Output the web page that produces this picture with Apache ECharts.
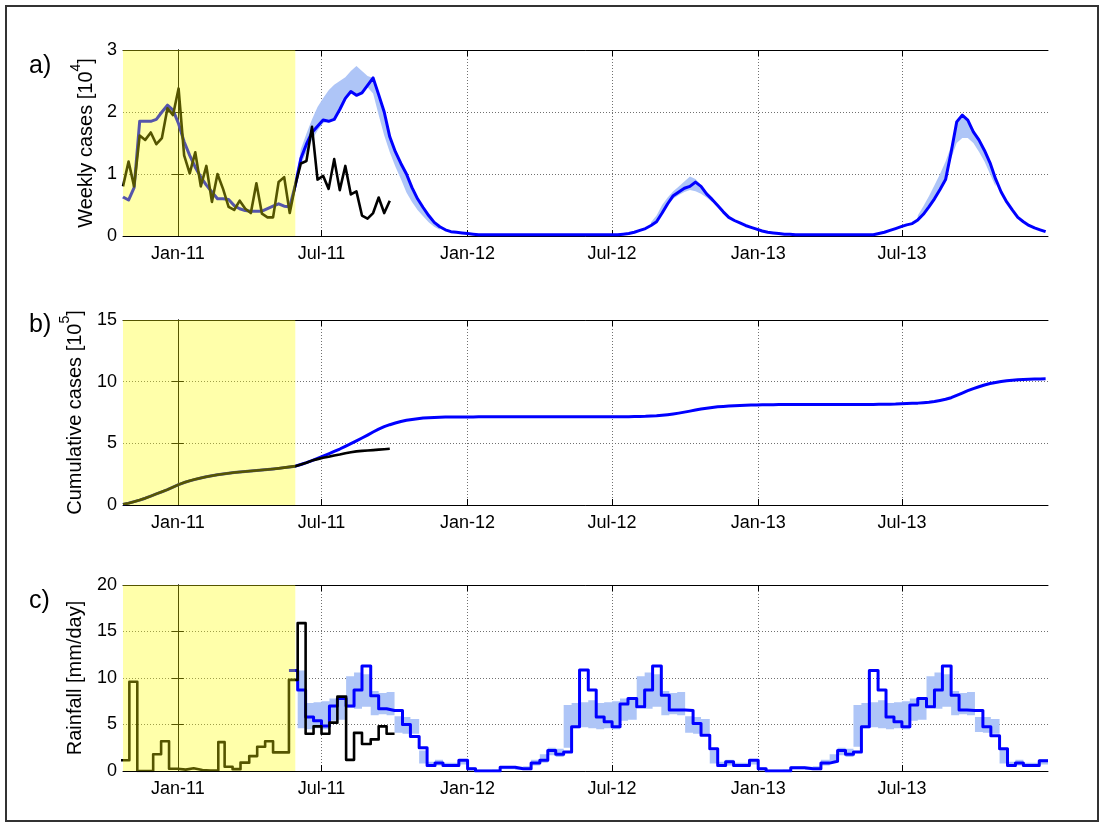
<!DOCTYPE html>
<html>
<head>
<meta charset="utf-8">
<script src="https://cdn.jsdelivr.net/npm/echarts@6/dist/echarts.min.js"></script>
<style>
  html, body { margin: 0; padding: 0; background: #fff; }
  #chart { width: 1101px; height: 823px; }
</style>
</head>
<body>
<div id="chart"></div>
<script>
// ---------- time handling: x values are days since 1 Jan 2011 ----------
const DAY0 = Date.UTC(2011, 0, 1);
function dayOf(ymd) { return (Date.UTC(ymd[0], ymd[1] - 1, ymd[2]) - DAY0) / 86400000; }

// ---------- axis ticks ----------
const axisStart = [2010, 10, 24];
const axisEnd = [2014, 1, 1];
const tickDates = [[2011, 1, 1], [2011, 7, 1], [2012, 1, 1], [2012, 7, 1], [2013, 1, 1], [2013, 7, 1]];
const tickLabels = ['Jan-11', 'Jul-11', 'Jan-12', 'Jul-12', 'Jan-13', 'Jul-13'];
const fitWindowEnd = [2011, 5, 29];   // end of the shaded fitting period

// ---------- a) weekly cases [10^4], one value per week from weekStart ----------
const weekStart = [2010, 10, 24];
const weeklyObserved = [
  0.80, 1.20, 0.80, 1.62, 1.55, 1.67, 1.48, 1.58, 2.06, 1.95,
  2.38, 1.30, 1.01, 1.35, 0.80, 1.13, 0.55, 1.00, 0.76, 0.47,
  0.42, 0.57, 0.44, 0.37, 0.85, 0.36, 0.30, 0.30, 0.87, 0.95,
  0.37, 0.82, 1.17, 1.21, 1.76, 0.91, 0.97, 0.76, 1.24, 0.74,
  1.13, 0.67, 0.72, 0.33, 0.28, 0.37, 0.62, 0.37, 0.57
];
const weeklyModel = [
  0.63, 0.58, 0.78, 1.85, 1.85, 1.85, 1.88, 2.00, 2.11, 2.03,
  1.81, 1.52, 1.30, 1.11, 0.95, 0.82, 0.71, 0.60, 0.60, 0.59,
  0.49, 0.44, 0.41, 0.40, 0.40, 0.40, 0.44, 0.48, 0.52, 0.48,
  0.47, 0.82, 1.25, 1.48, 1.67, 1.77, 1.87, 1.85, 1.88, 2.04,
  2.22, 2.33, 2.27, 2.31, 2.43, 2.55, 2.28, 2.00, 1.60, 1.36,
  1.17, 1.00, 0.78, 0.60, 0.46, 0.33, 0.22, 0.15, 0.10, 0.07,
  0.06, 0.05, 0.04, 0.03, 0.02, 0.02, 0.02, 0.02, 0.02, 0.02,
  0.02, 0.02, 0.02, 0.02, 0.02, 0.02, 0.02, 0.02, 0.02, 0.02,
  0.02, 0.02, 0.02, 0.02, 0.02, 0.02, 0.02, 0.02, 0.02, 0.02,
  0.03, 0.04, 0.06, 0.09, 0.12, 0.17, 0.23, 0.37, 0.52, 0.65,
  0.71, 0.77, 0.80, 0.87, 0.80, 0.68, 0.59, 0.49, 0.39, 0.30,
  0.25, 0.21, 0.17, 0.14, 0.11, 0.08, 0.06, 0.05, 0.04, 0.03,
  0.03, 0.02, 0.02, 0.02, 0.02, 0.02, 0.02, 0.02, 0.02, 0.02,
  0.02, 0.02, 0.02, 0.02, 0.02, 0.02, 0.04, 0.06, 0.09, 0.12,
  0.15, 0.18, 0.20, 0.26, 0.35, 0.47, 0.60, 0.75, 0.91, 1.35,
  1.84, 1.95, 1.87, 1.68, 1.55, 1.38, 1.18, 0.92, 0.71, 0.55,
  0.42, 0.30, 0.23, 0.17, 0.13, 0.10, 0.07
];
// uncertainty envelope of the model, per outbreak (week index of first value)
const caseBandStartWeek = [31, 95, 143];
const caseBandLow = [
  [0.80, 1.15, 1.35, 1.55, 1.70, 1.82, 1.85, 1.88, 2.04, 2.20, 2.30, 2.27, 2.31, 2.40,
   2.30, 1.95, 1.62, 1.35, 1.12, 0.92, 0.70, 0.55, 0.42, 0.32, 0.22, 0.15, 0.10],
  [0.17, 0.23, 0.37, 0.50, 0.60, 0.66, 0.71, 0.74, 0.72, 0.68, 0.62, 0.55],
  [0.26, 0.35, 0.47, 0.60, 0.75, 0.91, 1.25, 1.50, 1.58, 1.58, 1.50, 1.36, 1.20, 1.00, 0.80]
];
const caseBandHigh = [
  [0.85, 1.40, 1.65, 1.88, 2.08, 2.22, 2.35, 2.44, 2.50, 2.56, 2.66, 2.74, 2.66, 2.58,
   2.55, 2.28, 2.00, 1.60, 1.36, 1.17, 1.00, 0.78, 0.60, 0.46, 0.33, 0.22, 0.15],
  [0.22, 0.33, 0.50, 0.62, 0.72, 0.80, 0.88, 0.96, 0.92, 0.82, 0.70, 0.60],
  [0.33, 0.48, 0.64, 0.82, 1.00, 1.20, 1.45, 1.84, 1.95, 1.87, 1.70, 1.55, 1.38, 1.18, 0.95]
];

// ---------- b) cumulative cases [10^5], weekly from weekStart ----------
const cumulativeObserved = [
  0.05, 0.15, 0.27, 0.40, 0.55, 0.72, 0.90, 1.07, 1.25, 1.45,
  1.65, 1.82, 1.96, 2.08, 2.19, 2.29, 2.37, 2.45, 2.52, 2.58,
  2.63, 2.68, 2.72, 2.76, 2.80, 2.84, 2.88, 2.92, 2.97, 3.03,
  3.09, 3.15, 3.28, 3.42, 3.60, 3.72, 3.83, 3.91, 4.02, 4.10,
  4.20, 4.28, 4.35, 4.39, 4.42, 4.45, 4.49, 4.52, 4.56
];
const cumulativeModel = [
  0.05, 0.15, 0.27, 0.40, 0.55, 0.72, 0.90, 1.07, 1.25, 1.45,
  1.65, 1.82, 1.96, 2.08, 2.19, 2.29, 2.37, 2.45, 2.52, 2.58,
  2.63, 2.68, 2.72, 2.76, 2.80, 2.84, 2.88, 2.92, 2.97, 3.03,
  3.09, 3.15, 3.28, 3.43, 3.60, 3.78, 3.97, 4.15, 4.34, 4.54,
  4.76, 4.98, 5.20, 5.43, 5.67, 5.92, 6.15, 6.35, 6.51, 6.65,
  6.77, 6.87, 6.94, 7.00, 7.05, 7.08, 7.10, 7.12, 7.13, 7.14,
  7.14, 7.14, 7.14, 7.14, 7.15, 7.15, 7.15, 7.15, 7.15, 7.15,
  7.15, 7.15, 7.15, 7.15, 7.15, 7.16, 7.16, 7.16, 7.16, 7.16,
  7.16, 7.16, 7.16, 7.16, 7.16, 7.16, 7.16, 7.16, 7.16, 7.16,
  7.16, 7.16, 7.17, 7.18, 7.19, 7.21, 7.23, 7.27, 7.32, 7.38,
  7.45, 7.53, 7.61, 7.70, 7.78, 7.85, 7.91, 7.96, 7.99, 8.02,
  8.05, 8.07, 8.09, 8.10, 8.11, 8.12, 8.13, 8.13, 8.14, 8.14,
  8.14, 8.14, 8.14, 8.14, 8.14, 8.15, 8.15, 8.15, 8.15, 8.15,
  8.15, 8.15, 8.15, 8.15, 8.15, 8.15, 8.16, 8.16, 8.17, 8.18,
  8.20, 8.22, 8.24, 8.26, 8.30, 8.34, 8.40, 8.48, 8.57, 8.70,
  8.89, 9.08, 9.27, 9.44, 9.59, 9.73, 9.85, 9.94, 10.01, 10.07,
  10.11, 10.15, 10.18, 10.20, 10.21, 10.22, 10.23
];

// ---------- c) rainfall [mm/day], one value per dekad (1st, 11th, 21st) ----------
const rainObservedStart = [2010, 10, 21];
const rainObserved = [
  1.15, 9.6, 0, 0, 1.8, 3.2, 0.25, 0.15, 0.3, 0.1,
  0.05, 0.05, 3.1, 0.45, 0.2, 0.9, 1.6, 2.6, 3.2, 2.0,
  2.0, 9.8, 15.9, 4.0, 4.8, 4.0, 5.2, 8.0, 1.2, 4.1,
  2.9, 3.4, 4.8, 4.0
];
const rainModelStart = [2011, 5, 21];
const rainModel = [
  // 2011
  10.8, 8.7, 5.8, 5.4, 4.85, 7.0, 7.8, 7.0, 8.7, 11.3, 8.1, 6.7, 6.5, 6.5, 5.0, 3.7, 2.5, 0.6, 0.85, 0.6, 0.6, 1.15,
  // 2012
  0.25, 0, 0, 0, 0.4, 0.4, 0.25, 0.25, 0.85, 1.15, 2.2, 1.8, 2.05, 4.75, 10.85, 8.7, 5.8, 5.3,
  4.75, 7.2, 7.8, 6.9, 8.7, 11.3, 8.15, 6.55, 6.55, 6.5, 5.1, 3.85, 2.4, 0.6, 1.0, 0.6, 0.6, 1.15,
  // 2013
  0.25, 0, 0, 0, 0.35, 0.35, 0.25, 0.25, 0.85, 1.05, 2.2, 1.8, 2.05, 4.75, 10.8, 8.7, 5.8, 5.3,
  4.75, 7.1, 7.8, 6.9, 8.7, 11.3, 8.15, 6.55, 6.5, 6.5, 4.75, 3.8, 2.4, 0.6, 0.85, 0.6, 0.6, 1.1
];
const rainBandStart = [2011, 6, 1];
const rainBandLow = [
  4.6, 4.5, 4.6, 4.5, 5.4, 5.5, 6.8, 6.7, 6.9, 6.0, 6.1, 6.0, 4.1, 4.0, 4.0, 0.8, 0.5, 0.6, 0.5, 0.5, 0.7,
  0.05, 0, 0, 0, 0.2, 0.2, 0.1, 0.15, 0.6, 0.9, 1.7, 1.5, 2.5, 4.6, 4.7, 4.6, 4.5, 4.6,
  4.5, 5.4, 5.5, 6.8, 6.7, 6.9, 6.0, 6.1, 6.0, 4.1, 4.0, 4.0, 0.8, 0.5, 0.6, 0.5, 0.5, 0.7,
  0.05, 0, 0, 0, 0.2, 0.2, 0.1, 0.15, 0.6, 0.9, 1.7, 1.5, 2.6, 4.6, 4.7, 4.6, 4.5, 4.6,
  4.5, 5.4, 5.5, 6.8, 6.7, 6.9, 6.0, 6.1, 6.0, 4.2, 4.1, 4.0, 0.8, 0.5, 0.6, 0.5, 0.5, 0.7
];
const rainBandHigh = [
  10.8, 7.3, 7.4, 7.5, 7.8, 7.9, 10.2, 10.6, 10.4, 8.6, 8.4, 8.5, 5.9, 5.8, 5.6, 2.2, 1.0, 1.2, 0.9, 0.9, 1.3,
  0.4, 0.15, 0.15, 0.2, 0.55, 0.55, 0.45, 0.5, 1.2, 1.8, 2.5, 2.4, 7.1, 7.3, 7.4, 7.6, 7.3, 7.4,
  7.5, 7.8, 7.9, 10.2, 10.6, 10.4, 8.6, 8.4, 8.5, 5.9, 5.8, 5.6, 2.2, 1.0, 1.2, 0.9, 0.9, 1.3,
  0.4, 0.15, 0.15, 0.2, 0.55, 0.55, 0.45, 0.5, 1.2, 1.8, 2.5, 2.4, 7.1, 7.3, 7.4, 7.6, 7.3, 7.4,
  7.5, 7.8, 7.9, 10.2, 10.6, 10.4, 8.6, 8.4, 8.5, 5.8, 5.8, 5.6, 2.4, 1.0, 1.2, 0.9, 0.9, 1.3
];

// ---------- helpers ----------
const FONT = '"Liberation Sans", Arial, Helvetica, sans-serif';
const BLUE = '#0000ff';
const BAND = '#aec5f7';
const GRID = '#707070';
const xMin = dayOf(axisStart), xMax = dayOf(axisEnd);
const tickDays = tickDates.map(dayOf);
const fitEnd = dayOf(fitWindowEnd);
const week0 = dayOf(weekStart);

function weekly(values, firstWeek) {
  const k0 = firstWeek || 0;
  return values.map((v, i) => [week0 + 7 * (k0 + i), v]);
}
// boundaries of consecutive dekads (count + 1 dates)
function dekadBounds(start, count) {
  let y = start[0], m = start[1], d = start[2];
  const out = [];
  for (let i = 0; i <= count; i++) {
    out.push(dayOf([y, m, d]));
    if (d === 1) d = 11;
    else if (d === 11) d = 21;
    else { d = 1; m += 1; if (m > 12) { m = 1; y += 1; } }
  }
  return out;
}
function stepData(start, values) {
  const b = dekadBounds(start, values.length);
  const pts = values.map((v, i) => [b[i], v]);
  pts.push([b[values.length], values[values.length - 1]]);
  return pts;
}

function xAxes(gridIndex) {
  const common = {
    type: 'value', gridIndex, min: xMin, max: xMax,
    axisLine: { show: true, onZero: false, lineStyle: { color: '#000', width: 1 } },
    axisTick: { show: true, inside: true, length: 6, customValues: tickDays, lineStyle: { color: '#000' } }
  };
  return [
    Object.assign({}, common, {
      position: 'bottom',
      axisLabel: {
        show: true, customValues: tickDays, margin: 9, color: '#000',
        fontFamily: FONT, fontSize: 18,
        formatter: v => tickLabels[tickDays.indexOf(v)] || ''
      },
      splitLine: { show: true, lineStyle: { color: GRID, type: [1, 2], width: 1 } }
    }),
    Object.assign({}, common, {
      position: 'top', axisLabel: { show: false }, splitLine: { show: false }
    })
  ];
}
function yAxes(gridIndex, max, interval, name, nameGap) {
  const common = {
    type: 'value', gridIndex, min: 0, max, interval,
    axisLine: { show: true, lineStyle: { color: '#000', width: 1 } },
    axisTick: { show: true, inside: true, length: 6, lineStyle: { color: '#000' } }
  };
  return [
    Object.assign({}, common, {
      position: 'left',
      axisLabel: { show: true, margin: 6, color: '#000', fontFamily: FONT, fontSize: 18 },
      splitLine: { show: true, lineStyle: { color: GRID, type: [1, 2], width: 1 } },
      name, nameLocation: 'middle', nameRotate: 90, nameGap,
      nameTextStyle: {
        color: '#000', fontFamily: FONT, fontSize: 20,
        rich: {
          n: { fontFamily: FONT, fontSize: 20, color: '#000', lineHeight: 27, verticalAlign: 'bottom' },
          s: { fontFamily: FONT, fontSize: 14, color: '#000', lineHeight: 27, verticalAlign: 'top' }
        }
      }
    }),
    Object.assign({}, common, {
      position: 'right', axisLabel: { show: false }, splitLine: { show: false }
    })
  ];
}

function lineSeries(axisIdx, data, color, width, z, step) {
  return {
    type: 'line', xAxisIndex: axisIdx, yAxisIndex: axisIdx, data,
    showSymbol: false, symbol: 'none', silent: true, z, step: step || false,
    lineStyle: { color, width, join: 'round' }, clip: true
  };
}
function polygonSeries(axisIdx, polygons, color, z) {
  return {
    type: 'custom', xAxisIndex: axisIdx, yAxisIndex: axisIdx, silent: true, z, clip: true,
    data: [[xMin, 0]],
    renderItem: (params, api) => ({
      type: 'group',
      children: polygons.map(poly => ({
        type: 'polygon',
        shape: { points: poly.map(p => api.coord(p)) },
        style: { fill: color, stroke: null }
      }))
    })
  };
}
function fitWindow(axisIdx, yMax) {
  return polygonSeries(axisIdx, [[[xMin, 0], [fitEnd, 0], [fitEnd, yMax], [xMin, yMax]]],
    'rgba(255,255,0,0.335)', 20);
}

// envelope polygons
const casePolygons = caseBandStartWeek.map((k0, j) => {
  const top = caseBandHigh[j].map((v, i) => [week0 + 7 * (k0 + i), v]);
  const bottom = caseBandLow[j].map((v, i) => [week0 + 7 * (k0 + i), v]).reverse();
  return top.concat(bottom);
});
const rainPolygon = (() => {
  const b = dekadBounds(rainBandStart, rainBandHigh.length);
  const top = [], bottom = [];
  rainBandHigh.forEach((v, i) => { top.push([b[i], v], [b[i + 1], v]); });
  rainBandLow.forEach((v, i) => { bottom.push([b[i], v], [b[i + 1], v]); });
  return top.concat(bottom.reverse());
})();

const grids = [
  { left: 123, right: 53, top: 50, height: 186 },
  { left: 123, right: 53, top: 320, height: 185 },
  { left: 123, right: 53, top: 585, height: 186 }
].map(g => Object.assign({ outerBoundsMode: 'none', containLabel: false }, g));

const xAxis = [].concat(xAxes(0), xAxes(1), xAxes(2));
const yAxis = [].concat(
  yAxes(0, 3, 1, '{n|Weekly cases [10}{s|4}{n|]}', 25),
  yAxes(1, 15, 5, '{n|Cumulative cases [10}{s|5}{n|]}', 38),
  yAxes(2, 20, 5, '{n|Rainfall [mm/day]}', 38)
);

const series = [
  // a) weekly cases
  polygonSeries(0, casePolygons, BAND, 1),
  lineSeries(0, weekly(weeklyModel), BLUE, 3, 3),
  lineSeries(0, weekly(weeklyObserved), '#000', 2.6, 4),
  fitWindow(0, 3),
  // b) cumulative cases
  lineSeries(2, weekly(cumulativeModel), BLUE, 3, 3),
  lineSeries(2, weekly(cumulativeObserved), '#000', 2.6, 4),
  fitWindow(2, 15),
  // c) rainfall
  polygonSeries(4, [rainPolygon], BAND, 1),
  lineSeries(4, stepData(rainModelStart, rainModel), BLUE, 3, 3, 'end'),
  lineSeries(4, stepData(rainObservedStart, rainObserved), '#000', 2.6, 4, 'end'),
  fitWindow(4, 20)
];

const panelLabel = (text, y) => ({
  type: 'text', left: 29, top: y,
  style: { text, font: '25px ' + FONT, fill: '#000' }
});

const chart = echarts.init(document.getElementById('chart'), null, { renderer: 'canvas' });
chart.setOption({
  animation: false,
  backgroundColor: '#fff',
  grid: grids,
  xAxis, yAxis, series,
  graphic: [
    { type: 'rect', shape: { x: 6, y: 6, width: 1092, height: 815 },
      style: { fill: 'none', stroke: '#333', lineWidth: 2 }, silent: true },
    panelLabel('a)', 54),
    panelLabel('b)', 313),
    panelLabel('c)', 589)
  ]
});
</script>
</body>
</html>
